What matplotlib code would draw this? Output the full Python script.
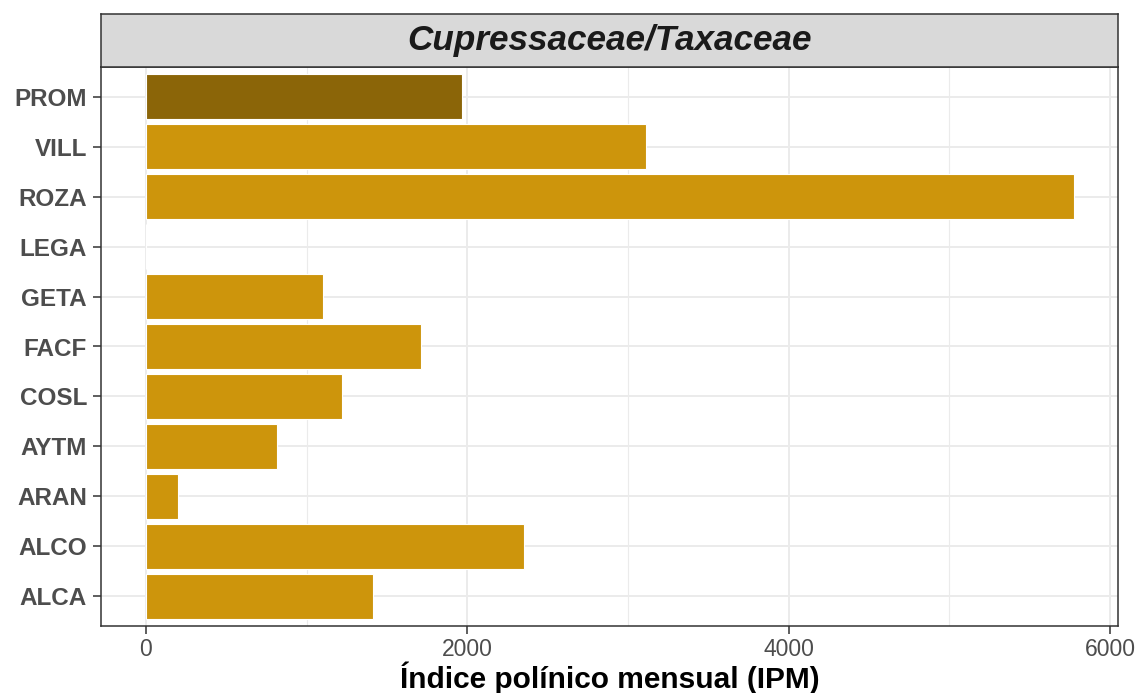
import matplotlib
matplotlib.use("Agg")
import matplotlib.pyplot as plt

sites = ["ALCA", "ALCO", "ARAN", "AYTM", "COSL", "FACF", "GETA", "LEGA", "ROZA", "VILL", "PROM"]
ipm = [1415, 2355, 200, 818, 1222, 1713, 1103, 0, 5775, 3110, 1970]
bar_colors = ["#CD950C"] * 10 + ["#8B6508"]
xticks = [0, 2000, 4000, 6000]
minor_xticks = [1000, 3000, 5000]
facet_title = "Cupressaceae/Taxaceae"
xlabel = "Índice polínico mensual (IPM)"

plt.rcParams["font.family"] = ["Liberation Sans", "DejaVu Sans"]

W, H = 1136, 693
fig = plt.figure(figsize=(W / 100, H / 100), dpi=100)
left, right, top, bottom = 101, 1118, 67, 626
ax = fig.add_axes([left / W, 1 - bottom / H, (right - left) / W, (bottom - top) / H])

ypos = list(range(1, len(sites) + 1))
ax.barh(ypos, ipm, height=0.9, color=bar_colors, edgecolor="white", linewidth=0.8, zorder=3)

ax.set_xlim(-280, 6050)
ax.set_ylim(0.4, len(sites) + 0.6)
ax.set_xticks(xticks)
ax.set_xticks(minor_xticks, minor=True)
ax.set_yticks(ypos)
ax.set_yticklabels(sites, fontsize=17.5, fontweight="bold", color="#4D4D4D")
ax.set_xticklabels([str(v) for v in xticks], fontsize=16.5, color="#4D4D4D")
ax.tick_params(axis="both", which="major", length=6, width=1.1, color="#333333")
ax.tick_params(axis="x", which="minor", length=0)
ax.tick_params(axis="y", pad=4)
ax.tick_params(axis="x", pad=3)
ax.grid(True, which="major", color="#EBEBEB", linewidth=1.4, zorder=0)
ax.grid(True, which="minor", axis="x", color="#EBEBEB", linewidth=0.8, zorder=0)
ax.set_axisbelow(True)
for s in ax.spines.values():
    s.set_color("#333333")
    s.set_linewidth(1.1)

ax.set_xlabel(xlabel, fontsize=21.5, fontweight="bold", color="black", labelpad=0)

# facet strip
sax = fig.add_axes([left / W, 1 - top / H, (right - left) / W, (top - 14) / H])
sax.set_xlim(0, 1)
sax.set_ylim(0, 1)
sax.set_xticks([])
sax.set_yticks([])
sax.set_facecolor("#D9D9D9")
for s in sax.spines.values():
    s.set_color("#333333")
    s.set_linewidth(1.1)
sax.text(0.5, 0.5, facet_title, ha="center", va="center", fontsize=25.3,
         fontweight="bold", fontstyle="italic", color="#1A1A1A")

fig.savefig("out.png", dpi=100, facecolor="white")
